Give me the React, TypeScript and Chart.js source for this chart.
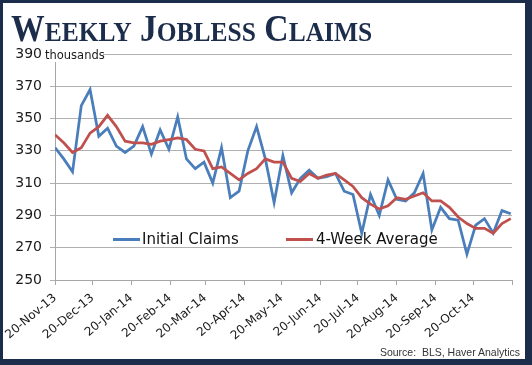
import React, { useEffect, useRef } from "react";
import { Chart, registerables } from "chart.js";

Chart.register(...registerables);

// ---- data ----
const firstWeek = "2013-11-20";
const initialClaims = [
  332, 325, 317, 358, 368, 339, 344, 333, 329, 333, 345, 328, 343, 331, 351, 325,
  319, 323, 310, 332, 301, 305, 330, 345, 325, 298, 327, 304, 313, 318, 313, 314,
  316, 305, 303, 279, 303, 290, 312, 300, 299, 304, 316, 281, 295, 288, 287, 266,
  284, 288, 279, 293, 291,
];
const fourWeekAverage = [
  340, 335, 329, 332, 341, 345, 352, 345, 336, 335, 335, 334, 336, 337, 338, 337,
  331, 330, 319, 320, 316, 312, 316, 319, 325, 323, 323, 313, 311, 316, 313, 315,
  316, 312, 308, 301, 297, 294, 296, 301, 300, 302, 304, 299, 299, 295, 289, 285,
  282, 282, 279, 285, 288,
];
const tickDates = [
  "2013-11-20", "2013-12-20", "2014-01-20", "2014-02-20", "2014-03-20", "2014-04-20",
  "2014-05-20", "2014-06-20", "2014-07-20", "2014-08-20", "2014-09-20", "2014-10-20",
  "2014-11-20",
];
const tickLabels = [
  "20-Nov-13", "20-Dec-13", "20-Jan-14", "20-Feb-14", "20-Mar-14", "20-Apr-14",
  "20-May-14", "20-Jun-14", "20-Jul-14", "20-Aug-14", "20-Sep-14", "20-Oct-14", "",
];
const yTicks = [250, 270, 290, 310, 330, 350, 370, 390];

const DAY = 86400000;
const t0 = Date.parse(firstWeek);
const dayOf = (d: string) => Math.round((Date.parse(d) - t0) / DAY);
const weekDays = initialClaims.map((_, i) => i * 7);
const tickDays = tickDates.map(dayOf);

const NAVY = "#1c2c4b";
const BLUE = "#4a7ebb";
const RED = "#c0504d";

export default function App() {
  const ref = useRef<HTMLCanvasElement | null>(null);

  useEffect(() => {
    document.body.style.margin = "0";
    const canvas = ref.current;
    if (!canvas) return;
    const chart = new Chart(canvas, {
      type: "line",
      data: {
        datasets: [
          {
            label: "Initial Claims",
            data: weekDays.map((d, i) => ({ x: d, y: initialClaims[i] })),
            borderColor: BLUE,
            backgroundColor: BLUE,
            borderWidth: 2.75,
            pointRadius: 0,
            tension: 0,
            order: 1,
          },
          {
            label: "4-Week Average",
            data: weekDays.map((d, i) => ({ x: d, y: fourWeekAverage[i] })),
            borderColor: RED,
            backgroundColor: RED,
            borderWidth: 2.75,
            pointRadius: 0,
            tension: 0,
            order: 0,
          },
        ],
      },
      options: {
        animation: false,
        responsive: false,
        maintainAspectRatio: false,
        layout: { padding: { left: 0, right: 20, top: 54, bottom: 0 } },
        plugins: { legend: { display: false }, tooltip: { enabled: false } },
        scales: {
          x: {
            type: "linear",
            min: tickDays[0],
            max: tickDays[tickDays.length - 1],
            afterBuildTicks: (s: any) => {
              s.ticks = tickDays.map((v) => ({ value: v }));
            },
            afterFit: (s: any) => {
              s.height = 85;
            },
            ticks: {
              autoSkip: false,
              minRotation: 40,
              maxRotation: 40,
              padding: 6,
              color: "#1a1a1a",
              font: { family: "DejaVu Sans", size: 12 },
              callback: (_v: any, i: number) => tickLabels[i],
            },
            grid: { drawOnChartArea: false, drawTicks: true, tickLength: 5, color: "#a6a6a6" },
            border: { color: "#a6a6a6", width: 1 },
          },
          y: {
            min: yTicks[0],
            max: yTicks[yTicks.length - 1],
            afterBuildTicks: (s: any) => {
              s.ticks = yTicks.map((v) => ({ value: v }));
            },
            afterFit: (s: any) => {
              s.width = 55;
            },
            ticks: {
              padding: 8,
              color: "#1a1a1a",
              font: { family: "DejaVu Sans", size: 14 },
            },
            grid: { color: "#b0b0b0", lineWidth: 1, tickLength: 5 },
            border: { color: "#a6a6a6", width: 1 },
          },
        },
      },
    });
    return () => chart.destroy();
  }, []);

  const legendText: React.CSSProperties = {
    position: "absolute",
    top: 229,
    height: 20,
    lineHeight: "20px",
    fontFamily: "DejaVu Sans",
    fontSize: 15,
    color: "#111",
    whiteSpace: "nowrap",
  };
  const legendLine: React.CSSProperties = {
    position: "absolute",
    top: 238,
    width: 27,
    height: 3,
  };
  const big: React.CSSProperties = { fontSize: 37 };
  const small: React.CSSProperties = { fontSize: 28 };

  return (
    <div
      style={{
        position: "fixed",
        left: 0,
        top: 0,
        width: 532,
        height: 365,
        background: "#fff",
        overflow: "hidden",
      }}
    >
      <canvas ref={ref} width={532} height={365} style={{ display: "block", position: "absolute", left: 0, top: 0 }} />
      <div
        style={{
          position: "absolute",
          left: 11,
          top: 7,
          fontFamily: "Liberation Serif",
          fontWeight: "bold",
          color: NAVY,
          whiteSpace: "nowrap",
          transform: "scaleX(0.91)",
          transformOrigin: "left top",
          lineHeight: "normal",
        }}
      >
        <span style={big}>W</span>
        <span style={small}>EEKLY</span>
        <span style={big}> J</span>
        <span style={small}>OBLESS</span>
        <span style={big}> C</span>
        <span style={small}>LAIMS</span>
      </div>
      <div
        style={{
          position: "absolute",
          left: 44,
          top: 48,
          width: 58,
          height: 14,
          background: "#fff",
          fontFamily: "DejaVu Sans",
          fontSize: 11.5,
          lineHeight: "normal",
          color: "#1a1a1a",
          paddingLeft: 1,
        }}
      >
        thousands
      </div>
      <div style={{ ...legendLine, left: 113, background: BLUE }} />
      <div style={{ ...legendText, left: 142 }}>Initial Claims</div>
      <div style={{ ...legendLine, left: 286, background: RED }} />
      <div style={{ ...legendText, left: 316 }}>4-Week Average</div>
      <div
        style={{
          position: "absolute",
          right: 12,
          top: 346,
          fontFamily: "Liberation Sans",
          fontSize: 10.5,
          color: "#333",
          whiteSpace: "pre",
        }}
      >
        {"Source:  BLS, Haver Analytics"}
      </div>
      <div
        style={{
          position: "absolute",
          inset: 0,
          boxSizing: "border-box",
          borderStyle: "solid",
          borderColor: NAVY,
          borderWidth: "3px 7px 6px 3px",
          pointerEvents: "none",
        }}
      />
    </div>
  );
}
